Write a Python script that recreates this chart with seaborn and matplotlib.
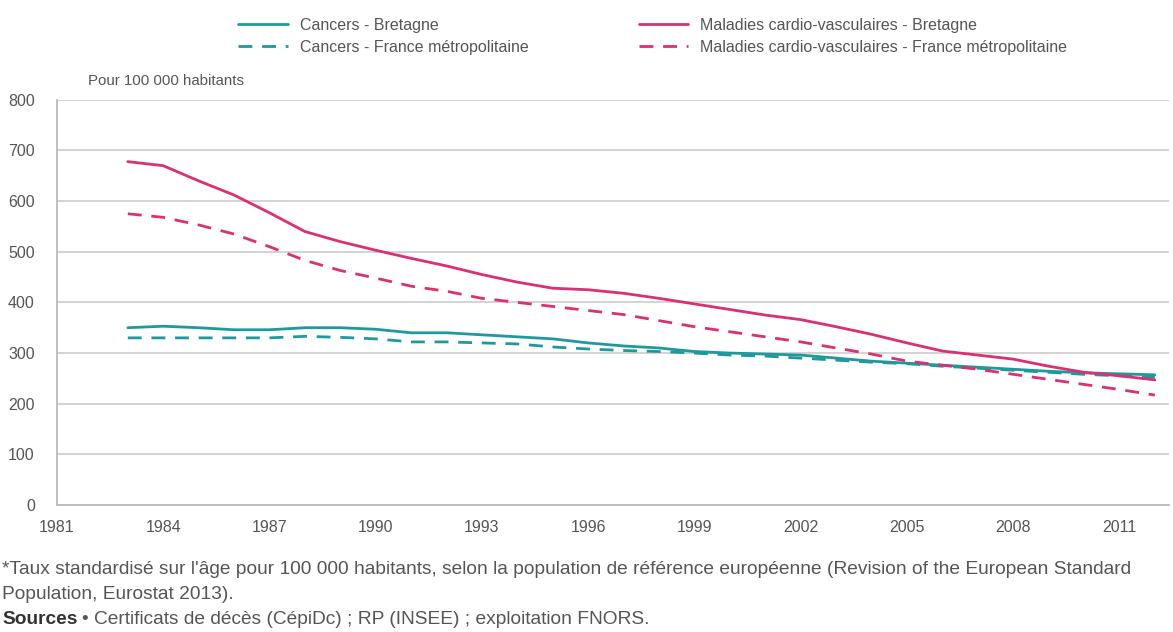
import pandas as pd
import matplotlib.pyplot as plt
import seaborn as sns

# Step 1: the data
years = list(range(1983, 2013))

cancers_bretagne = [350, 353, 350, 346, 346, 350, 350, 347, 340, 340,
                    336, 332, 328, 320, 314, 310, 303, 300, 298, 296,
                    290, 284, 280, 276, 272, 268, 264, 261, 259, 257]
cancers_france = [330, 330, 330, 330, 330, 333, 331, 328, 322, 322,
                  320, 318, 312, 308, 305, 303, 300, 296, 294, 290,
                  286, 282, 279, 274, 270, 266, 262, 258, 255, 252]
cardio_bretagne = [678, 670, 640, 612, 577, 540, 520, 503, 487, 472,
                   455, 440, 428, 425, 418, 408, 397, 386, 375, 366,
                   352, 337, 320, 304, 296, 288, 274, 262, 255, 247]
cardio_france = [575, 568, 553, 535, 510, 483, 463, 448, 432, 422,
                 408, 400, 392, 384, 376, 364, 352, 342, 332, 322,
                 310, 298, 284, 276, 268, 258, 248, 238, 228, 217]

series_labels = ['Cancers - Bretagne',
                 'Cancers - France métropolitaine',
                 'Maladies cardio-vasculaires - Bretagne',
                 'Maladies cardio-vasculaires - France métropolitaine']
series_values = [cancers_bretagne, cancers_france, cardio_bretagne, cardio_france]

rows = []
for label, values in zip(series_labels, series_values):
    for year, v in zip(years, values):
        rows.append({'annee': year, 'taux': v, 'serie': label})
data = pd.DataFrame(rows)

teal = '#1f9a9c'
pink = '#dc2f74'
palette = {series_labels[0]: teal, series_labels[1]: teal,
           series_labels[2]: pink, series_labels[3]: pink}
dashes = {series_labels[0]: '', series_labels[1]: (5, 3.5),
          series_labels[2]: '', series_labels[3]: (5, 3.5)}

# Step 2: the plot
sns.set_style('white')
plt.rcParams['font.family'] = ['Liberation Sans', 'DejaVu Sans']
text_grey = '#555555'

fig = plt.figure(figsize=(11.73, 6.32), dpi=100)
ax = fig.add_axes([0.0486, 0.201, 0.948, 0.641])

sns.lineplot(data=data, x='annee', y='taux', hue='serie', style='serie',
             palette=palette, dashes=dashes, linewidth=2, ax=ax,
             hue_order=series_labels, style_order=series_labels)

ax.set_xlim(1981, 2012.4)
ax.set_ylim(0, 800)
ax.set_xticks(range(1981, 2012, 3))
ax.set_yticks(range(0, 801, 100))
ax.set_xlabel('')
ax.set_ylabel('')
ax.grid(axis='y', color='#d0d0d0', linewidth=1.3)
ax.set_axisbelow(True)
for side in ['top', 'right']:
    ax.spines[side].set_visible(False)
for side in ['left', 'bottom']:
    ax.spines[side].set_color('#bbbbbb')
    ax.spines[side].set_linewidth(1.3)
ax.tick_params(axis='both', colors=text_grey, labelsize=11.5, length=0)
ax.tick_params(axis='x', pad=11)
ax.tick_params(axis='y', pad=16)

handles, labels = ax.get_legend_handles_labels()
ax.get_legend().remove()
fig.legend(handles, labels, ncol=2, frameon=False, loc='upper left',
           bbox_to_anchor=(0.191, 0.995), fontsize=11.5, labelcolor=text_grey,
           handlelength=3.1, columnspacing=6.9, handletextpad=0.75,
           labelspacing=0.45)

fig.text(0.075, 0.866, 'Pour 100 000 habitants', fontsize=10.8, color=text_grey)

fig.text(0.002, 0.092,
         "*Taux standardisé sur l'âge pour 100 000 habitants, selon la population de référence "
         "européenne (Revision of the European Standard", fontsize=13.8, color=text_grey)
fig.text(0.002, 0.052, 'Population, Eurostat 2013).', fontsize=13.8, color=text_grey)
src = fig.text(0.002, 0.013, 'Sources', fontsize=13.8, color='#333333', fontweight='bold')

fig.canvas.draw()
bb = src.get_window_extent(renderer=fig.canvas.get_renderer())
x_next = (bb.x1 + 4) / fig.bbox.width
fig.text(x_next, 0.013, '• Certificats de décès (CépiDc) ; RP (INSEE) ; exploitation FNORS.',
         fontsize=13.8, color=text_grey)

plt.savefig('out.png', dpi=100)
